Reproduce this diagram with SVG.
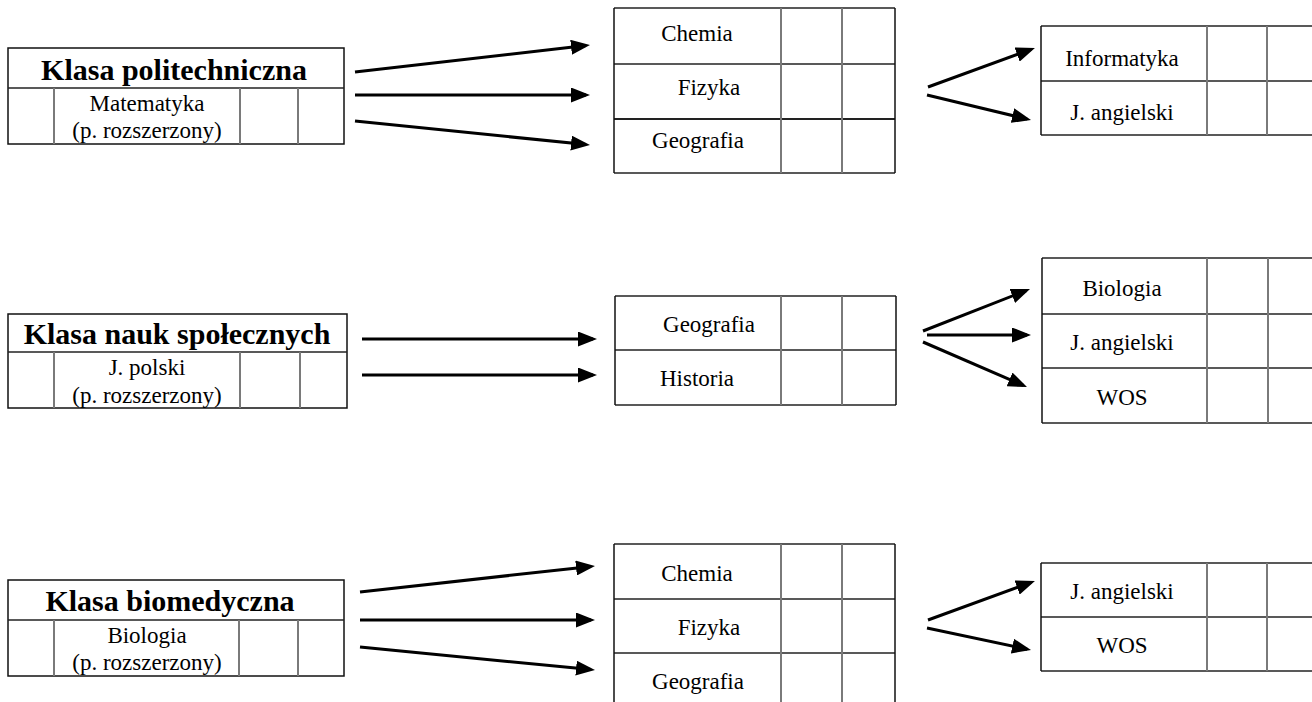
<svg xmlns="http://www.w3.org/2000/svg" width="1312" height="702" viewBox="0 0 1312 702">
<style>
  .bg{fill:#fff}
  .h{stroke:#222;stroke-width:1.5;fill:none}
  .v{stroke:#7a7a7a;stroke-width:2;fill:none}
  .frame{stroke:#111;stroke-width:1.5;fill:none}
  text{font-family:'Liberation Serif','Times New Roman',Times,serif;fill:#000;text-anchor:middle;dominant-baseline:central}
  .t{font-size:23px}
  .tb{font-size:30px;font-weight:bold}
  .arr{stroke:#000;stroke-width:3;fill:none;marker-end:url(#ah)}
</style>
<defs>
  <marker id="ah" markerUnits="userSpaceOnUse" markerWidth="19" markerHeight="15" refX="15" refY="7.5" orient="auto">
    <path d="M0,0 L19,7.5 L0,15 z" fill="#000"/>
  </marker>
</defs>
<rect class="bg" x="0" y="0" width="1312" height="702"/>

<!-- Left boxes -->
<g id="klasa-politechniczna">
  <rect class="frame" x="8" y="48" width="336" height="96"/>
  <line class="h" x1="8" y1="88" x2="344" y2="88"/>
  <line class="v" x1="54" y1="88" x2="54" y2="144"/>
  <line class="v" x1="240" y1="88" x2="240" y2="144"/>
  <line class="v" x1="298" y1="88" x2="298" y2="144"/>
  <text class="tb" x="174" y="69">Klasa politechniczna</text>
  <text class="t" x="147" y="103">Matematyka</text>
  <text class="t" x="147" y="130">(p. rozszerzony)</text>
</g>
<g id="klasa-nauk-spolecznych">
  <rect class="frame" x="8" y="314" width="339" height="94"/>
  <line class="h" x1="8" y1="352" x2="347" y2="352"/>
  <line class="v" x1="54" y1="352" x2="54" y2="408"/>
  <line class="v" x1="240" y1="352" x2="240" y2="408"/>
  <line class="v" x1="300" y1="352" x2="300" y2="408"/>
  <text class="tb" x="177" y="333">Klasa nauk społecznych</text>
  <text class="t" x="147" y="367">J. polski</text>
  <text class="t" x="147" y="395">(p. rozszerzony)</text>
</g>
<g id="klasa-biomedyczna">
  <rect class="frame" x="8" y="580" width="336" height="96"/>
  <line class="h" x1="8" y1="620" x2="344" y2="620"/>
  <line class="v" x1="54" y1="620" x2="54" y2="676"/>
  <line class="v" x1="239" y1="620" x2="239" y2="676"/>
  <line class="v" x1="298" y1="620" x2="298" y2="676"/>
  <text class="tb" x="170" y="600">Klasa biomedyczna</text>
  <text class="t" x="147" y="635">Biologia</text>
  <text class="t" x="147" y="662">(p. rozszerzony)</text>
</g>

<!-- Middle tables -->
<g id="poli-przedmioty">
  <line class="h" x1="614" y1="8" x2="895" y2="8"/>
  <line class="h" x1="614" y1="64" x2="895" y2="64"/>
  <line class="h" x1="614" y1="119" x2="895" y2="119" style="stroke-width:2"/>
  <line class="h" x1="614" y1="173" x2="895" y2="173"/>
  <line class="frame" x1="614" y1="8" x2="614" y2="173"/>
  <line class="v" x1="781" y1="8" x2="781" y2="173"/>
  <line class="v" x1="842" y1="8" x2="842" y2="173"/>
  <line class="frame" x1="895" y1="8" x2="895" y2="173"/>
  <text class="t" x="697" y="33">Chemia</text>
  <text class="t" x="709" y="87">Fizyka</text>
  <text class="t" x="698" y="140">Geografia</text>
</g>
<g id="spol-przedmioty">
  <line class="h" x1="615" y1="296" x2="896" y2="296"/>
  <line class="h" x1="615" y1="350" x2="896" y2="350"/>
  <line class="h" x1="615" y1="405" x2="896" y2="405"/>
  <line class="frame" x1="615" y1="296" x2="615" y2="405"/>
  <line class="v" x1="781" y1="296" x2="781" y2="405"/>
  <line class="v" x1="842" y1="296" x2="842" y2="405"/>
  <line class="frame" x1="896" y1="296" x2="896" y2="405"/>
  <text class="t" x="709" y="324">Geografia</text>
  <text class="t" x="697" y="378">Historia</text>
</g>
<g id="bio-przedmioty">
  <line class="h" x1="614" y1="544" x2="895" y2="544"/>
  <line class="h" x1="614" y1="599" x2="895" y2="599"/>
  <line class="h" x1="614" y1="653" x2="895" y2="653"/>
  <line class="frame" x1="614" y1="544" x2="614" y2="702"/>
  <line class="v" x1="781" y1="544" x2="781" y2="702"/>
  <line class="v" x1="842" y1="544" x2="842" y2="702"/>
  <line class="frame" x1="895" y1="544" x2="895" y2="702"/>
  <text class="t" x="697" y="573">Chemia</text>
  <text class="t" x="709" y="627">Fizyka</text>
  <text class="t" x="698" y="681">Geografia</text>
</g>

<!-- Right tables -->
<g id="poli-dodatkowe">
  <line class="h" x1="1041" y1="26" x2="1312" y2="26"/>
  <line class="h" x1="1041" y1="81" x2="1312" y2="81"/>
  <line class="h" x1="1041" y1="135" x2="1312" y2="135"/>
  <line class="frame" x1="1041" y1="26" x2="1041" y2="135"/>
  <line class="v" x1="1207" y1="26" x2="1207" y2="135"/>
  <line class="v" x1="1267" y1="26" x2="1267" y2="135"/>
  <text class="t" x="1122" y="58">Informatyka</text>
  <text class="t" x="1122" y="112">J. angielski</text>
</g>
<g id="spol-dodatkowe">
  <line class="h" x1="1042" y1="258" x2="1312" y2="258"/>
  <line class="h" x1="1042" y1="314" x2="1312" y2="314"/>
  <line class="h" x1="1042" y1="368" x2="1312" y2="368"/>
  <line class="h" x1="1042" y1="423" x2="1312" y2="423"/>
  <line class="frame" x1="1042" y1="258" x2="1042" y2="423"/>
  <line class="v" x1="1207" y1="258" x2="1207" y2="423"/>
  <line class="v" x1="1268" y1="258" x2="1268" y2="423"/>
  <text class="t" x="1122" y="288">Biologia</text>
  <text class="t" x="1122" y="342">J. angielski</text>
  <text class="t" x="1122" y="397">WOS</text>
</g>
<g id="bio-dodatkowe">
  <line class="h" x1="1041" y1="563" x2="1312" y2="563"/>
  <line class="h" x1="1041" y1="617" x2="1312" y2="617"/>
  <line class="h" x1="1041" y1="671" x2="1312" y2="671"/>
  <line class="frame" x1="1041" y1="563" x2="1041" y2="671"/>
  <line class="v" x1="1207" y1="563" x2="1207" y2="671"/>
  <line class="v" x1="1267" y1="563" x2="1267" y2="671"/>
  <text class="t" x="1122" y="591">J. angielski</text>
  <text class="t" x="1122" y="645">WOS</text>
</g>

<!-- Connectors -->
<g id="connectors">
  <line class="arr" x1="355" y1="72" x2="586" y2="45.5"/>
  <line class="arr" x1="355" y1="95" x2="586" y2="95"/>
  <line class="arr" x1="355" y1="121" x2="586" y2="144.6"/>
  <line class="arr" x1="362" y1="339" x2="593" y2="339"/>
  <line class="arr" x1="362" y1="375" x2="593" y2="375"/>
  <line class="arr" x1="360" y1="592" x2="591" y2="566.4"/>
  <line class="arr" x1="360" y1="620" x2="591" y2="620"/>
  <line class="arr" x1="360" y1="647" x2="591" y2="669.6"/>
  <line class="arr" x1="928" y1="87" x2="1031.2" y2="49.4"/>
  <line class="arr" x1="927" y1="95" x2="1027.1" y2="119.1"/>
  <line class="arr" x1="923" y1="331" x2="1026.3" y2="290.5"/>
  <line class="arr" x1="927" y1="335" x2="1027" y2="335"/>
  <line class="arr" x1="923" y1="342" x2="1023.3" y2="385.4"/>
  <line class="arr" x1="928" y1="620" x2="1031.2" y2="582.4"/>
  <line class="arr" x1="927" y1="628" x2="1027.1" y2="649.2"/>
</g>
</svg>
